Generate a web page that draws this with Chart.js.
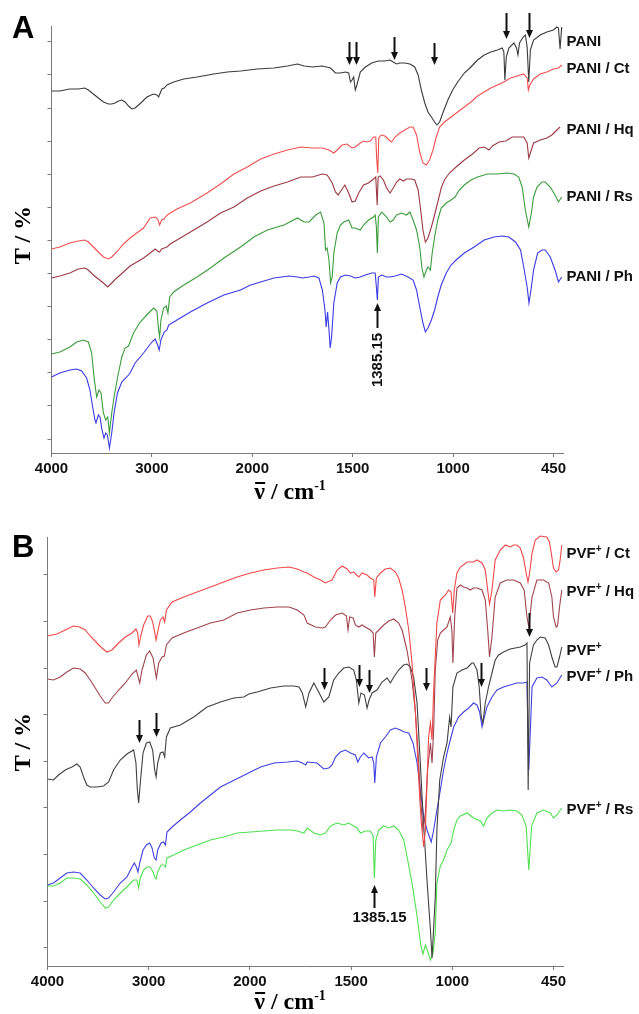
<!DOCTYPE html>
<html>
<head>
<meta charset="utf-8">
<script src="https://cdn.jsdelivr.net/npm/chart.js@4.4.0/dist/chart.umd.min.js"></script>
<style>
  body { margin: 0; background: #fff; }
  #page { position: relative; width: 639px; height: 1014px; overflow: hidden; background: #fff; font-family: "Liberation Sans", Arial, sans-serif; }
  canvas { position: absolute; left: 0; }
  #chartA { top: 0; }
  #chartB { top: 510px; }
  .letter { position: absolute; left: 12px; font-size: 31px; font-weight: bold; line-height: 31px; color: #000; }
  .ytitle, .xtitle { position: absolute; font-family: "Liberation Serif", "Times New Roman", serif; font-weight: bold; color: #000; white-space: nowrap; line-height: 1; }
  .ytitle { font-size: 24px; transform: translate(-50%, -50%) rotate(-90deg); }
  .xtitle { font-size: 24px; transform: translate(-50%, -50%); }
  .xtitle sup { font-size: 14px; vertical-align: 9px; }
  .nu { position: relative; display: inline-block; line-height: 1; }
  .nu::before { content: ""; position: absolute; left: 1px; right: 0; top: 3px; height: 2px; background: #000; }
</style>
</head>
<body>
<div id="page">
  <canvas id="chartA" width="639" height="505"></canvas>
  <canvas id="chartB" width="639" height="504"></canvas>
  <div class="letter" style="top:12px">A</div>
  <div class="letter" style="top:531px">B</div>
  <div class="ytitle" style="left:22px; top:235px">T / %</div>
  <div class="ytitle" style="left:22px; top:742px">T / %</div>
  <div class="xtitle" style="left:290px; top:491px"><span class="nu">ν</span> / cm<sup>-1</sup></div>
  <div class="xtitle" style="left:290px; top:1001px"><span class="nu">ν</span> / cm<sup>-1</sup></div>
</div>
<script>
// axis: wavenumber in cm-1 (scale halves below 2000), T in arbitrary transmittance units
const TICK_WN = [4000, 3000, 2000, 1500, 1000, 500];
const TICK_TEXT = ["4000", "3000", "2000", "1500", "1000", "450"];

// ---- panel A: [wavenumber, T] ----
const PANI = [[4000,36.2],[3917,36.2],[3817,36.4],[3733,36.4],[3667,36.5],[3633,36.3],[3583,35.9],[3533,35.5],[3483,35.1],[3433,34.9],[3400,34.9],[3367,35.0],[3333,35.2],[3300,35.3],[3267,35.1],[3233,34.7],[3200,34.4],[3167,34.5],[3133,34.8],[3100,35.1],[3050,35.6],[2983,35.9],[2950,35.8],[2933,35.6],[2917,36.0],[2900,36.4],[2877,36.5],[2850,36.8],[2783,37.1],[2683,37.4],[2550,37.6],[2383,37.9],[2250,38.1],[2117,38.2],[1975,38.4],[1892,38.5],[1825,38.7],[1775,38.9],[1742,38.7],[1701,38.6],[1651,38.7],[1610,38.5],[1586,38.0],[1561,38.0],[1536,38.1],[1520,38.0],[1511,37.1],[1503,37.3],[1495,37.6],[1487,36.3],[1479,36.8],[1462,38.1],[1437,38.6],[1405,39.0],[1372,39.2],[1339,39.2],[1314,39.3],[1298,39.1],[1281,38.9],[1265,39.0],[1240,39.0],[1215,38.9],[1191,38.6],[1174,37.8],[1158,36.3],[1141,35.0],[1125,34.1],[1108,33.6],[1092,33.1],[1080,32.8],[1067,33.1],[1051,34.0],[1026,35.3],[1002,36.3],[977,37.1],[944,38.0],[911,38.6],[878,39.3],[845,39.8],[812,40.1],[779,40.3],[755,40.5],[747,40.1],[742,37.3],[735,39.6],[722,40.5],[697,41.0],[684,40.5],[677,39.8],[669,41.0],[651,41.6],[640,41.8],[631,40.6],[623,37.1],[615,40.3],[599,41.3],[566,41.8],[533,42.1],[500,42.3],[483,42.6],[475,42.5],[467,40.4],[459,42.6]];

const PANI_CT = [[4000,20.4],[3917,20.6],[3817,21.0],[3733,21.2],[3667,21.3],[3633,21.1],[3583,20.6],[3533,20.1],[3483,19.6],[3433,19.4],[3400,19.6],[3350,20.1],[3283,20.9],[3217,21.5],[3150,22.0],[3083,22.5],[3017,23.5],[2967,23.6],[2943,23.4],[2923,22.8],[2903,23.3],[2877,23.4],[2857,23.7],[2833,23.9],[2750,24.4],[2617,25.0],[2450,26.0],[2317,26.9],[2183,27.9],[2050,28.6],[1958,29.4],[1892,29.9],[1825,30.3],[1758,30.6],[1701,30.5],[1651,30.5],[1618,30.3],[1594,30.0],[1577,30.3],[1553,30.8],[1528,30.9],[1503,30.5],[1487,30.6],[1462,31.0],[1446,31.2],[1429,31.1],[1413,31.2],[1396,31.6],[1385,31.6],[1380,29.3],[1375,28.0],[1370,31.5],[1358,31.8],[1339,31.7],[1319,31.3],[1306,31.1],[1289,31.6],[1265,32.0],[1240,32.3],[1215,32.6],[1199,32.6],[1182,31.8],[1166,30.1],[1150,29.0],[1133,28.8],[1117,29.3],[1100,30.3],[1084,31.6],[1067,32.6],[1043,33.1],[1010,33.6],[977,34.1],[944,34.6],[911,35.1],[878,35.7],[845,36.1],[812,36.5],[779,36.8],[747,37.1],[714,37.5],[681,37.7],[648,37.9],[631,37.5],[625,36.3],[618,36.8],[599,37.4],[566,37.9],[533,38.1],[500,38.4],[475,38.5],[459,38.8]];

const PANI_HQ = [[4000,17.5],[3917,17.7],[3817,18.0],[3733,18.4],[3667,18.5],[3633,18.3],[3583,17.8],[3533,17.4],[3483,17.0],[3440,16.6],[3400,17.0],[3350,17.5],[3283,18.1],[3217,18.7],[3150,19.1],[3083,19.5],[3017,20.0],[2967,20.4],[2943,20.2],[2923,20.1],[2903,20.4],[2877,20.5],[2850,20.6],[2817,20.9],[2717,21.5],[2583,22.3],[2450,23.1],[2317,24.0],[2183,24.6],[2050,25.5],[1958,26.2],[1892,26.7],[1825,27.1],[1758,27.6],[1701,27.6],[1651,27.9],[1627,27.8],[1602,27.0],[1586,26.1],[1572,25.8],[1556,26.3],[1539,26.8],[1520,26.0],[1503,25.1],[1487,25.2],[1470,26.0],[1446,26.8],[1421,27.0],[1396,27.4],[1385,27.6],[1378,24.8],[1373,27.6],[1363,27.7],[1347,27.3],[1331,26.5],[1314,26.0],[1298,26.5],[1281,27.1],[1265,27.4],[1248,27.2],[1232,27.4],[1207,27.4],[1191,27.3],[1174,26.3],[1163,24.6],[1150,22.3],[1138,21.1],[1125,21.5],[1108,22.6],[1092,23.8],[1076,25.1],[1059,26.5],[1043,27.3],[1018,28.0],[985,28.6],[944,29.3],[903,29.9],[870,30.5],[845,30.6],[821,30.3],[804,30.7],[771,31.1],[738,31.2],[705,31.6],[673,31.6],[648,31.6],[631,31.0],[623,29.5],[615,30.0],[599,31.0],[566,31.3],[533,31.5],[508,31.8],[483,32.3],[467,32.6]];

const PANI_RS = [[4000,9.9],[3917,10.1],[3817,10.6],[3750,11.1],[3683,11.3],[3633,11.1],[3600,10.0],[3573,7.3],[3550,5.6],[3527,6.3],[3507,6.0],[3483,4.0],[3460,3.3],[3440,3.6],[3423,2.0],[3400,4.0],[3377,5.6],[3343,7.5],[3300,9.6],[3267,10.5],[3233,10.7],[3183,12.0],[3117,13.1],[3033,14.0],[2983,14.5],[2950,14.2],[2933,12.3],[2923,11.6],[2910,13.3],[2883,14.5],[2857,14.7],[2840,14.0],[2823,15.6],[2783,16.1],[2683,16.8],[2550,17.6],[2417,18.5],[2283,19.5],[2117,20.6],[1992,21.6],[1925,22.3],[1842,22.8],[1775,23.5],[1742,23.1],[1717,23.1],[1684,23.8],[1660,24.1],[1643,23.0],[1635,20.3],[1627,20.5],[1618,19.3],[1610,17.0],[1602,17.6],[1594,20.0],[1577,22.0],[1561,22.8],[1544,23.1],[1520,23.3],[1503,22.5],[1487,22.5],[1462,22.3],[1446,22.8],[1421,23.3],[1396,23.6],[1388,23.8],[1382,22.6],[1377,20.0],[1372,23.6],[1355,24.1],[1331,23.6],[1314,23.1],[1298,23.3],[1281,23.8],[1257,24.0],[1232,23.8],[1215,24.1],[1199,23.3],[1182,22.3],[1166,20.6],[1155,18.5],[1145,17.6],[1133,18.3],[1125,18.6],[1113,18.3],[1104,20.0],[1092,21.6],[1076,23.3],[1059,24.5],[1034,25.0],[1010,25.3],[990,25.6],[969,26.3],[944,26.8],[911,27.3],[878,27.6],[829,27.9],[779,27.9],[730,28.0],[697,27.9],[673,27.6],[656,26.6],[640,24.3],[623,22.6],[610,24.0],[599,25.6],[582,26.6],[557,27.1],[541,27.1],[516,26.6],[492,25.8],[475,25.1],[459,25.6]];

const PANI_PH = [[4000,7.6],[3917,8.0],[3817,8.3],[3750,8.4],[3700,8.2],[3650,7.5],[3617,6.3],[3590,4.6],[3567,3.3],[3557,3.0],[3533,3.8],[3517,3.6],[3497,2.3],[3477,1.5],[3460,2.0],[3443,1.8],[3423,0.5],[3400,2.0],[3377,4.0],[3343,6.0],[3300,7.1],[3250,7.6],[3217,8.0],[3167,9.0],[3083,10.0],[3000,11.1],[2967,11.4],[2943,10.8],[2927,10.3],[2910,11.3],[2877,12.1],[2850,12.3],[2833,12.8],[2750,13.3],[2617,14.1],[2450,15.0],[2283,15.8],[2117,16.3],[2017,16.8],[1958,17.1],[1892,17.5],[1817,17.7],[1775,17.6],[1750,17.5],[1717,17.6],[1692,17.7],[1668,17.5],[1651,16.3],[1638,14.3],[1632,12.6],[1625,14.1],[1618,12.3],[1612,10.5],[1605,11.6],[1594,15.0],[1577,17.0],[1561,17.6],[1536,17.8],[1511,17.7],[1487,17.5],[1462,17.6],[1437,17.8],[1405,18.0],[1388,18.0],[1382,16.6],[1377,15.3],[1372,17.6],[1355,17.8],[1331,17.6],[1314,17.6],[1289,17.7],[1257,17.9],[1224,17.6],[1199,17.3],[1182,16.3],[1166,14.6],[1150,13.0],[1138,12.1],[1125,12.5],[1108,13.3],[1092,14.3],[1076,15.6],[1059,16.8],[1034,18.0],[1010,18.8],[985,19.3],[944,20.0],[895,20.6],[845,21.3],[796,21.6],[755,21.7],[722,21.6],[689,21.1],[664,20.3],[648,18.6],[631,16.6],[622,15.0],[612,16.3],[599,18.3],[579,20.0],[557,20.3],[541,20.3],[516,19.6],[492,18.3],[475,17.1],[459,17.6]];

// ---- panel B ----
const PVF_CT = [[4000,33.0],[3908,33.2],[3825,33.6],[3743,34.0],[3683,33.9],[3627,33.6],[3578,33.0],[3512,32.3],[3462,31.8],[3413,31.4],[3363,31.6],[3297,32.3],[3231,32.9],[3165,33.3],[3126,33.7],[3109,33.3],[3096,32.1],[3076,33.1],[3050,34.1],[3010,35.0],[2984,35.0],[2961,34.4],[2941,33.4],[2927,32.6],[2911,33.4],[2885,34.6],[2858,34.9],[2842,34.4],[2825,35.6],[2769,36.4],[2654,36.9],[2522,37.4],[2390,37.9],[2258,38.4],[2126,38.9],[1997,39.3],[1931,39.6],[1865,39.8],[1807,39.9],[1766,39.7],[1733,39.4],[1717,39.3],[1684,38.9],[1651,38.6],[1627,38.3],[1594,38.6],[1569,39.6],[1544,40.0],[1520,39.7],[1503,39.3],[1487,39.4],[1462,38.9],[1446,39.3],[1421,39.1],[1405,38.8],[1388,38.6],[1383,36.9],[1375,38.8],[1355,39.3],[1331,39.7],[1306,39.8],[1281,39.4],[1265,38.8],[1248,37.6],[1232,35.9],[1215,33.6],[1199,30.3],[1182,25.3],[1171,20.9],[1161,16.9],[1153,14.3],[1141,11.9],[1133,13.6],[1125,18.3],[1117,22.9],[1108,24.3],[1100,22.6],[1092,27.6],[1076,34.3],[1059,36.6],[1034,37.1],[1018,37.6],[1006,37.4],[998,35.3],[990,37.6],[977,39.3],[960,39.9],[927,40.4],[895,40.4],[878,40.6],[853,40.3],[837,39.6],[825,37.6],[816,36.2],[804,37.6],[788,40.6],[763,41.6],[738,42.1],[714,41.9],[697,42.1],[681,42.1],[664,41.8],[648,40.8],[635,39.3],[626,38.4],[618,39.3],[606,41.3],[590,42.6],[566,43.0],[533,42.9],[520,42.4],[508,40.9],[500,39.8],[487,39.4],[475,39.6],[467,40.6],[459,42.1]];

const PVF_HQ = [[4000,28.7],[3941,28.6],[3875,28.9],[3809,29.4],[3743,29.8],[3677,29.7],[3627,29.3],[3578,28.6],[3528,27.8],[3479,27.0],[3429,26.3],[3396,26.3],[3363,26.8],[3297,27.6],[3231,28.3],[3165,29.2],[3122,29.6],[3089,28.3],[3066,29.6],[3023,31.1],[2990,31.5],[2957,30.8],[2924,28.8],[2901,30.3],[2868,30.9],[2845,31.0],[2825,32.1],[2769,32.8],[2654,33.3],[2522,33.8],[2390,34.3],[2258,34.6],[2126,35.3],[1997,35.6],[1931,35.8],[1865,35.9],[1807,35.9],[1766,35.6],[1733,35.1],[1717,34.3],[1676,33.9],[1643,33.8],[1627,33.9],[1602,34.6],[1577,35.1],[1544,35.3],[1523,35.0],[1515,33.6],[1507,34.9],[1490,34.8],[1479,34.1],[1462,33.9],[1446,34.1],[1421,33.8],[1405,33.6],[1391,33.3],[1385,30.9],[1378,33.3],[1363,33.6],[1339,34.1],[1314,34.5],[1289,34.7],[1265,34.3],[1248,33.6],[1224,31.6],[1199,28.6],[1182,25.3],[1166,20.3],[1155,16.3],[1145,13.6],[1133,15.3],[1122,19.6],[1108,22.3],[1100,20.3],[1092,23.6],[1084,29.6],[1072,32.6],[1059,33.3],[1043,33.6],[1026,33.9],[1010,34.9],[1002,33.6],[997,30.3],[988,34.9],[977,37.8],[960,38.1],[944,37.9],[927,37.8],[911,37.6],[895,37.8],[878,37.8],[853,37.6],[837,36.6],[825,33.6],[816,30.9],[804,32.9],[788,36.9],[763,38.3],[730,38.6],[697,38.6],[664,38.3],[645,37.6],[631,34.9],[622,33.9],[606,36.9],[582,38.6],[549,38.6],[524,38.3],[508,36.9],[500,34.9],[487,33.9],[480,34.0],[470,35.9],[459,37.6]];

const PVF = [[4000,18.7],[3941,18.6],[3891,19.1],[3825,19.6],[3759,19.9],[3710,20.2],[3677,19.9],[3644,18.9],[3611,18.1],[3578,17.9],[3512,17.9],[3446,18.0],[3396,18.4],[3347,19.6],[3281,20.6],[3215,21.2],[3149,21.6],[3126,20.3],[3112,17.6],[3099,16.3],[3083,18.3],[3056,21.3],[3023,22.3],[2990,22.4],[2961,21.6],[2941,19.6],[2927,18.9],[2911,20.3],[2885,21.3],[2858,21.4],[2842,20.9],[2825,22.9],[2786,23.8],[2687,24.1],[2555,24.9],[2423,25.9],[2291,26.4],[2159,26.8],[2060,26.9],[2010,27.2],[1964,27.4],[1898,27.8],[1832,28.0],[1782,28.0],[1757,27.9],[1741,27.3],[1724,25.9],[1708,27.3],[1684,28.3],[1660,27.4],[1635,26.4],[1610,26.9],[1586,28.6],[1561,29.3],[1536,29.8],[1511,29.9],[1487,29.6],[1474,28.6],[1462,26.3],[1451,27.3],[1434,27.1],[1421,25.8],[1411,26.6],[1396,27.3],[1372,27.6],[1347,28.4],[1322,28.8],[1306,28.3],[1289,28.9],[1265,29.6],[1240,30.1],[1224,30.2],[1207,29.9],[1191,28.9],[1174,26.3],[1158,20.3],[1145,15.3],[1125,8.6],[1108,3.6],[1100,0.8],[1084,6.9],[1076,13.6],[1062,18.6],[1043,20.9],[1026,22.3],[1013,24.9],[1006,23.9],[997,27.9],[977,29.3],[952,29.6],[927,29.8],[903,30.3],[895,30.3],[878,29.6],[867,27.9],[857,24.9],[849,24.3],[837,26.3],[821,27.9],[804,29.3],[788,30.6],[771,31.1],[747,31.4],[714,31.7],[664,31.9],[640,32.1],[631,32.3],[625,17.6],[618,30.3],[599,32.1],[582,32.6],[566,32.9],[541,32.8],[524,32.1],[508,30.9],[492,29.9],[483,29.9],[470,30.9],[459,31.9]];

const PVF_PH = [[4000,8.1],[3941,8.3],[3875,8.8],[3809,9.3],[3743,9.4],[3677,9.3],[3611,8.6],[3545,7.8],[3479,7.1],[3429,6.7],[3396,6.8],[3347,7.4],[3281,8.3],[3215,8.9],[3165,9.9],[3142,10.3],[3122,9.9],[3106,9.4],[3089,10.3],[3056,11.6],[3023,12.1],[2990,12.3],[2967,11.8],[2944,10.8],[2927,10.6],[2911,11.6],[2878,12.3],[2852,12.4],[2835,12.1],[2819,13.4],[2769,13.9],[2687,14.6],[2588,15.4],[2489,16.3],[2390,17.1],[2291,17.9],[2192,18.4],[2093,18.9],[1997,19.4],[1947,19.9],[1881,20.3],[1815,20.4],[1766,20.5],[1741,20.3],[1724,20.1],[1717,20.4],[1668,20.3],[1635,19.7],[1610,19.8],[1594,20.1],[1577,20.9],[1553,21.4],[1528,21.6],[1503,21.3],[1479,21.1],[1467,20.4],[1454,20.9],[1437,21.3],[1413,20.8],[1396,20.9],[1388,20.3],[1383,18.3],[1375,20.9],[1355,22.3],[1331,22.9],[1306,23.6],[1281,23.8],[1257,23.6],[1237,23.4],[1215,23.3],[1194,22.3],[1174,20.3],[1158,17.6],[1141,14.9],[1125,13.6],[1104,12.4],[1092,13.6],[1076,15.6],[1059,17.6],[1043,19.6],[1026,21.3],[1010,22.6],[993,23.9],[969,24.9],[944,25.4],[919,25.8],[895,26.3],[878,26.1],[865,25.4],[853,23.9],[845,24.6],[829,25.9],[804,26.9],[779,27.6],[747,27.9],[714,28.1],[681,28.3],[648,28.3],[631,28.4],[622,19.6],[606,27.9],[582,28.8],[557,28.9],[533,28.6],[508,27.9],[483,28.3],[459,29.1]];

const PVF_RS = [[4000,8.0],[3941,8.0],[3875,8.3],[3809,8.8],[3743,8.8],[3677,8.7],[3611,8.1],[3545,7.3],[3479,6.4],[3429,5.8],[3396,5.9],[3347,6.6],[3281,7.3],[3215,7.9],[3149,8.6],[3116,8.6],[3099,7.8],[3083,8.8],[3050,9.6],[3017,9.9],[2984,9.9],[2957,9.4],[2941,8.9],[2927,8.7],[2911,9.4],[2878,10.1],[2852,10.1],[2835,9.9],[2819,10.8],[2753,11.1],[2654,11.6],[2522,12.1],[2390,12.6],[2258,12.9],[2126,13.3],[1997,13.4],[1931,13.5],[1865,13.6],[1799,13.6],[1766,13.5],[1733,13.3],[1717,13.8],[1684,13.3],[1651,13.1],[1627,13.3],[1602,14.0],[1569,14.3],[1536,14.1],[1511,14.3],[1487,14.0],[1470,13.8],[1454,13.3],[1429,13.5],[1405,13.5],[1391,13.0],[1385,8.8],[1378,12.6],[1363,13.6],[1339,14.0],[1314,13.8],[1289,14.0],[1265,13.6],[1240,12.6],[1224,11.0],[1199,8.3],[1174,5.0],[1155,2.0],[1145,1.2],[1133,2.1],[1122,1.5],[1108,0.6],[1095,1.3],[1084,3.4],[1076,8.3],[1059,10.0],[1043,10.6],[1026,11.6],[1006,12.3],[993,13.6],[977,14.6],[960,15.0],[927,15.3],[895,14.8],[862,14.5],[845,14.0],[829,14.8],[804,15.3],[779,15.6],[747,15.5],[714,15.6],[681,15.5],[656,15.1],[635,14.0],[622,9.6],[608,14.0],[582,15.3],[549,15.6],[516,15.3],[500,14.8],[483,15.1],[459,15.8]];

// marked bands: [wavenumber, T tail, T head]
const ARROWS_A = [[1516,41.1,38.8],[1482,41.1,38.8],[1293,41.6,39.3],[1095,41.0,38.8],[738,44.0,41.4],[620,44.0,41.5]];
const ARROWS_B = [[3099,24.6,22.3],[2927,25.3,22.9],[1635,29.8,27.6],[1459,30.1,27.9],[1413,29.6,27.3],[1130,29.8,27.5],[858,30.3,27.9],[622,35.3,32.9]];

const FONT = '"Liberation Sans", Arial, sans-serif';

function toAxis(wn) {
  return wn >= 2000 ? (4000 - wn) / 1000 : 2 + (2000 - wn) / 500;
}

function drawArrow(ctx, x, yTail, yHead) {
  const dir = yHead > yTail ? 1 : -1;
  ctx.beginPath();
  ctx.moveTo(x, yTail);
  ctx.lineTo(x, yHead - dir * 6);
  ctx.lineWidth = 2;
  ctx.stroke();
  ctx.beginPath();
  ctx.moveTo(x, yHead);
  ctx.lineTo(x - 3.5, yHead - dir * 8);
  ctx.lineTo(x + 3.5, yHead - dir * 8);
  ctx.closePath();
  ctx.fill();
}

function drawSeriesLabel(ctx, name, x, y) {
  ctx.textBaseline = "middle";
  ctx.textAlign = "left";
  ctx.font = `bold 15px ${FONT}`;
  ctx.fillText(name.base, x, y);
  x += ctx.measureText(name.base).width;
  if (name.sup) {
    ctx.font = `bold 10px ${FONT}`;
    ctx.fillText(name.sup, x, y - 5);
    x += ctx.measureText(name.sup).width;
    ctx.font = `bold 15px ${FONT}`;
  }
  ctx.fillText(name.rest, x, y);
}

const annotate = {
  id: "annotate",
  afterDatasetsDraw(chart, args, opts) {
    const { ctx, chartArea, scales: { x, y } } = chart;
    ctx.save();
    ctx.fillStyle = "#111";
    ctx.strokeStyle = "#111";

    chart.data.datasets.forEach(ds => {
      const last = ds.data[ds.data.length - 1];
      drawSeriesLabel(ctx, ds.name, chartArea.right + 3, y.getPixelForValue(last.y) + ds.labelDy);
    });

    (opts.arrows || []).forEach(([wn, tail, head]) => {
      const px = Math.round(x.getPixelForValue(toAxis(wn))) + 0.5;
      drawArrow(ctx, px, y.getPixelForValue(tail), y.getPixelForValue(head));
    });

    const note = opts.note;
    if (note) {
      const px = Math.round(x.getPixelForValue(toAxis(note.wn))) + 0.5;
      drawArrow(ctx, px, y.getPixelForValue(note.tail), y.getPixelForValue(note.head));
      ctx.font = `bold 15px ${FONT}`;
      ctx.textAlign = "center";
      ctx.textBaseline = "middle";
      const ty = y.getPixelForValue(note.textT);
      if (note.rotate) {
        ctx.translate(px, ty);
        ctx.rotate(-Math.PI / 2);
        ctx.fillText(note.text, 0, 0);
      } else {
        ctx.fillText(note.text, px + note.dx, ty);
      }
    }
    ctx.restore();
  }
};

function buildPanel(canvasId, panel) {
  const ctx = document.getElementById(canvasId).getContext("2d");
  const axisColor = "#7a7a7a";
  return new Chart(ctx, {
    type: "line",
    data: {
      datasets: panel.series.map(s => ({
        label: s.name.base + (s.name.sup || "") + s.name.rest,
        name: s.name,
        labelDy: s.dy,
        data: s.points.map(([wn, t]) => ({ x: toAxis(wn), y: t })),
        borderColor: s.color,
        borderWidth: 1.1,
        pointRadius: 0,
        tension: 0,
        clip: false
      }))
    },
    options: {
      responsive: false,
      animation: false,
      events: [],
      layout: { padding: panel.padding },
      plugins: {
        legend: { display: false },
        tooltip: { enabled: false },
        annotate: { arrows: panel.arrows, note: panel.note }
      },
      scales: {
        x: {
          type: "linear",
          min: 0,
          max: toAxis(450),
          afterBuildTicks: scale => { scale.ticks = TICK_WN.map(w => ({ value: toAxis(w) })); },
          afterFit: scale => { scale.height = 30; },
          ticks: {
            autoSkip: false,
            maxRotation: 0,
            padding: 3,
            color: "#111",
            font: { family: FONT, size: 15, weight: "bold" },
            callback: (value, index) => TICK_TEXT[index]
          },
          grid: { drawOnChartArea: false, drawTicks: true, tickLength: 4, color: axisColor },
          border: { color: axisColor }
        },
        y: {
          type: "linear",
          min: 0,
          max: panel.yMax,
          afterBuildTicks: scale => { scale.ticks = panel.yTicks.map(v => ({ value: v })); },
          afterFit: scale => { scale.width = panel.left; },
          ticks: { autoSkip: false, padding: 0, callback: () => "" },
          grid: { drawOnChartArea: false, drawTicks: true, tickLength: 4, color: axisColor },
          border: { color: axisColor }
        }
      }
    },
    plugins: [annotate]
  });
}

function tickRange(start, step, count) {
  return Array.from({ length: count }, (_, k) => start + step * k);
}

buildPanel("chartA", {
  padding: { top: 26, right: 75.5, bottom: 22, left: 0 },
  left: 51.5,
  yMax: 42.7,
  yTicks: tickRange(1.4, 3.31, 13),
  arrows: ARROWS_A,
  note: { wn: 1380, tail: 12.5, head: 15.0, textT: 9.3, text: "1385.15", rotate: true },
  series: [
    { name: { base: "PANI", rest: "" }, points: PANI, color: "#3a3a3a", dy: 15 },
    { name: { base: "PANI", rest: " / Ct" }, points: PANI_CT, color: "#f05050", dy: 4 },
    { name: { base: "PANI", rest: " / Hq" }, points: PANI_HQ, color: "#9b3a45", dy: 3 },
    { name: { base: "PANI", rest: " / Rs" }, points: PANI_RS, color: "#3c9c3c", dy: 0 },
    { name: { base: "PANI", rest: " / Ph" }, points: PANI_PH, color: "#3a3ae6", dy: 0 }
  ]
});

buildPanel("chartB", {
  padding: { top: 27, right: 75.4, bottom: 18, left: 0 },
  left: 47.5,
  yMax: 42.9,
  yTicks: tickRange(1.83, 4.66, 9),
  arrows: ARROWS_B,
  note: { wn: 1385, tail: 5.8, head: 8.1, textT: 4.8, text: "1385.15", rotate: false, dx: 5 },
  series: [
    { name: { base: "PVF", sup: "+", rest: " / Ct" }, points: PVF_CT, color: "#f04848", dy: 9 },
    { name: { base: "PVF", sup: "+", rest: " / Hq" }, points: PVF_HQ, color: "#a0454f", dy: 2 },
    { name: { base: "PVF", sup: "+", rest: "" }, points: PVF, color: "#404040", dy: 4 },
    { name: { base: "PVF", sup: "+", rest: " / Ph" }, points: PVF_PH, color: "#4040e0", dy: 2 },
    { name: { base: "PVF", sup: "+", rest: " / Rs" }, points: PVF_RS, color: "#50e050", dy: 2 }
  ]
});
</script>
</body>
</html>
